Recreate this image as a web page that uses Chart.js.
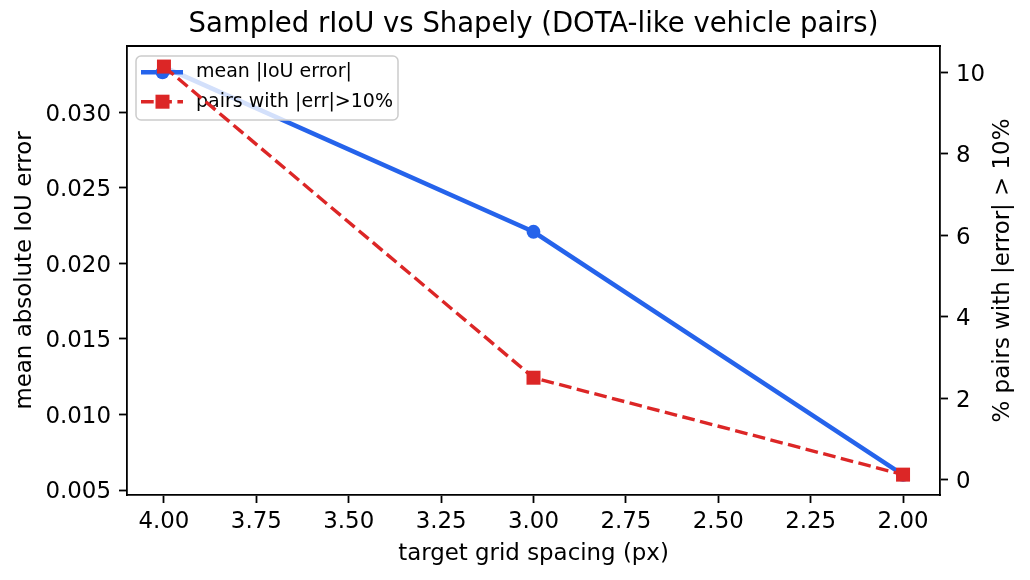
<!DOCTYPE html>
<html>
<head>
<meta charset="utf-8">
<script src="https://cdn.jsdelivr.net/npm/chart.js@4.4.1/dist/chart.umd.min.js"></script>
<style>
  html, body { margin: 0; padding: 0; background: #fff; }
  canvas { display: block; }
</style>
</head>
<body>
<canvas id="myChart" width="1030" height="580" style="width:1030px;height:580px"></canvas>
<script>
'use strict';

// grid spacing (x) and the two measured series
let spacing = [4.0, 3.0, 2.0];
let meanErr = [0.0330, 0.0221, 0.0060];
let pctOver = [10.14, 2.5, 0.12];

let xTicks = [4.0, 3.75, 3.5, 3.25, 3.0, 2.75, 2.5, 2.25, 2.0];
let leftTicks = [0.005, 0.010, 0.015, 0.020, 0.025, 0.030];
let rightTicks = [0, 2, 4, 6, 8, 10];

let seriesNames = ['mean |IoU error|', 'pairs with |err|>10%'];
let chartTitle = 'Sampled rIoU vs Shapely (DOTA-like vehicle pairs)';

let blue = '#2563eb';
let red = '#dc2626';
let font = "'DejaVu Sans', sans-serif";

Chart.defaults.font.family = font;
Chart.defaults.color = '#000';

function points(ys) {
    let out = [];
    for (let i = 0; i < spacing.length; i++) {
        out.push({ x: spacing[i], y: ys[i] });
    }
    return out;
}

function fixTicks(list) {
    return function (scale) {
        scale.ticks = list.map(v => ({ value: v }));
    };
}

function axisStyle() {
    return {
        display: true,
        drawOnChartArea: false,
        drawTicks: true,
        tickLength: 8,
        tickWidth: 1.8,
        tickColor: '#000',
        color: '#000'
    };
}

// legend sits inside the plot, drawn after the blue line but under the red one
let insideLegend = {
    id: 'insideLegend',
    afterDatasetDraw(chart, args) {
        if (args.index !== 0) return;
        let ctx = chart.ctx;
        ctx.save();
        let x = 136, y = 56, w = 262, h = 64, r = 5;
        ctx.beginPath();
        ctx.roundRect(x, y, w, h, r);
        ctx.fillStyle = 'rgba(255,255,255,0.8)';
        ctx.fill();
        ctx.lineWidth = 1.5;
        ctx.strokeStyle = '#cccccc';
        ctx.stroke();

        let rows = [72.3, 101.7];
        // blue handle
        ctx.beginPath();
        ctx.strokeStyle = blue;
        ctx.lineWidth = 4.5;
        ctx.moveTo(141, rows[0]);
        ctx.lineTo(183, rows[0]);
        ctx.stroke();
        ctx.beginPath();
        ctx.fillStyle = blue;
        ctx.arc(162.5, rows[0], 6.9, 0, Math.PI * 2);
        ctx.fill();
        // red handle
        ctx.beginPath();
        ctx.strokeStyle = red;
        ctx.lineWidth = 3.4;
        ctx.setLineDash([12.7, 5.5]);
        ctx.moveTo(141, rows[1]);
        ctx.lineTo(183, rows[1]);
        ctx.stroke();
        ctx.setLineDash([]);
        ctx.fillStyle = red;
        ctx.fillRect(162.5 - 7, rows[1] - 7, 14, 14);

        ctx.fillStyle = '#000';
        ctx.font = '19px ' + font;
        ctx.textAlign = 'left';
        ctx.textBaseline = 'middle';
        ctx.fillText(seriesNames[0], 196, rows[0]);
        ctx.fillText(seriesNames[1], 196, rows[1]);
        ctx.restore();
    }
};

// title over the plot, top spine and the right-hand axis title (reads bottom to top)
let frameExtras = {
    id: 'frameExtras',
    afterDraw(chart) {
        let ctx = chart.ctx;
        let a = chart.chartArea;
        ctx.save();
        ctx.beginPath();
        ctx.strokeStyle = '#000';
        ctx.lineWidth = 1.8;
        ctx.moveTo(a.left - 0.9, a.top);
        ctx.lineTo(a.right + 0.9, a.top);
        ctx.stroke();

        ctx.fillStyle = '#000';
        ctx.font = '27.5px ' + font;
        ctx.textAlign = 'center';
        ctx.textBaseline = 'middle';
        ctx.fillText(chartTitle, (a.left + a.right) / 2, 25);

        ctx.translate(1003, (a.top + a.bottom) / 2);
        ctx.rotate(-Math.PI / 2);
        ctx.font = '22.9px ' + font;
        ctx.fillText('% pairs with |error| > 10%', 0, 0);
        ctx.restore();
    }
};

let ctx = document.getElementById('myChart').getContext('2d');
let myChart = new Chart(ctx, {
    type: 'line',
    data: {
        datasets: [{
            label: seriesNames[0],
            data: points(meanErr),
            yAxisID: 'y',
            order: 2,
            borderColor: blue,
            backgroundColor: blue,
            borderWidth: 4.5,
            pointStyle: 'circle',
            pointRadius: 6.9,
            pointBorderWidth: 0,
            pointBackgroundColor: blue,
            tension: 0
        }, {
            label: seriesNames[1],
            data: points(pctOver),
            yAxisID: 'y2',
            order: 1,
            borderColor: red,
            backgroundColor: red,
            borderWidth: 3.4,
            borderDash: [12.7, 5.5],
            pointStyle: 'rect',
            pointRadius: 9.9,
            pointBorderWidth: 0,
            pointBackgroundColor: red,
            tension: 0
        }]
    },
    plugins: [insideLegend, frameExtras],
    options: {
        responsive: false,
        animation: false,
        devicePixelRatio: 1,
        layout: { padding: { top: 46, left: 0, right: 0, bottom: 0 } },
        plugins: {
            legend: { display: false },
            tooltip: { enabled: false },
            title: { display: false }
        },
        scales: {
            x: {
                type: 'linear',
                reverse: true,
                min: 1.9,
                max: 4.1,
                afterBuildTicks: fixTicks(xTicks),
                afterFit: function (scale) { scale.height = 85; },
                grid: axisStyle(),
                border: { display: true, color: '#000', width: 1.8 },
                ticks: {
                    font: { size: 22.9 },
                    padding: 5,
                    maxRotation: 0,
                    callback: v => Number(v).toFixed(2)
                },
                title: {
                    display: true,
                    text: 'target grid spacing (px)',
                    font: { size: 22.9 },
                    padding: { top: 0, bottom: 12 }
                }
            },
            y: {
                type: 'linear',
                position: 'left',
                min: 0.00467,
                max: 0.0344,
                afterBuildTicks: fixTicks(leftTicks),
                afterFit: function (scale) { scale.width = 127; },
                grid: axisStyle(),
                border: { display: true, color: '#000', width: 1.8 },
                ticks: {
                    font: { size: 22.9 },
                    padding: 8,
                    labelOffset: 2.5,
                    callback: v => Number(v).toFixed(3)
                },
                title: {
                    display: true,
                    text: 'mean absolute IoU error',
                    font: { size: 22.9 },
                    padding: { top: 11, bottom: 0 }
                }
            },
            y2: {
                type: 'linear',
                position: 'right',
                min: -0.38,
                max: 10.645,
                afterBuildTicks: fixTicks(rightTicks),
                afterFit: function (scale) { scale.width = 90; },
                grid: axisStyle(),
                border: { display: true, color: '#000', width: 1.8 },
                ticks: {
                    font: { size: 22.9 },
                    padding: 8,
                    labelOffset: 2.5,
                    callback: v => String(v)
                }
            }
        }
    }
});
</script>
</body>
</html>
